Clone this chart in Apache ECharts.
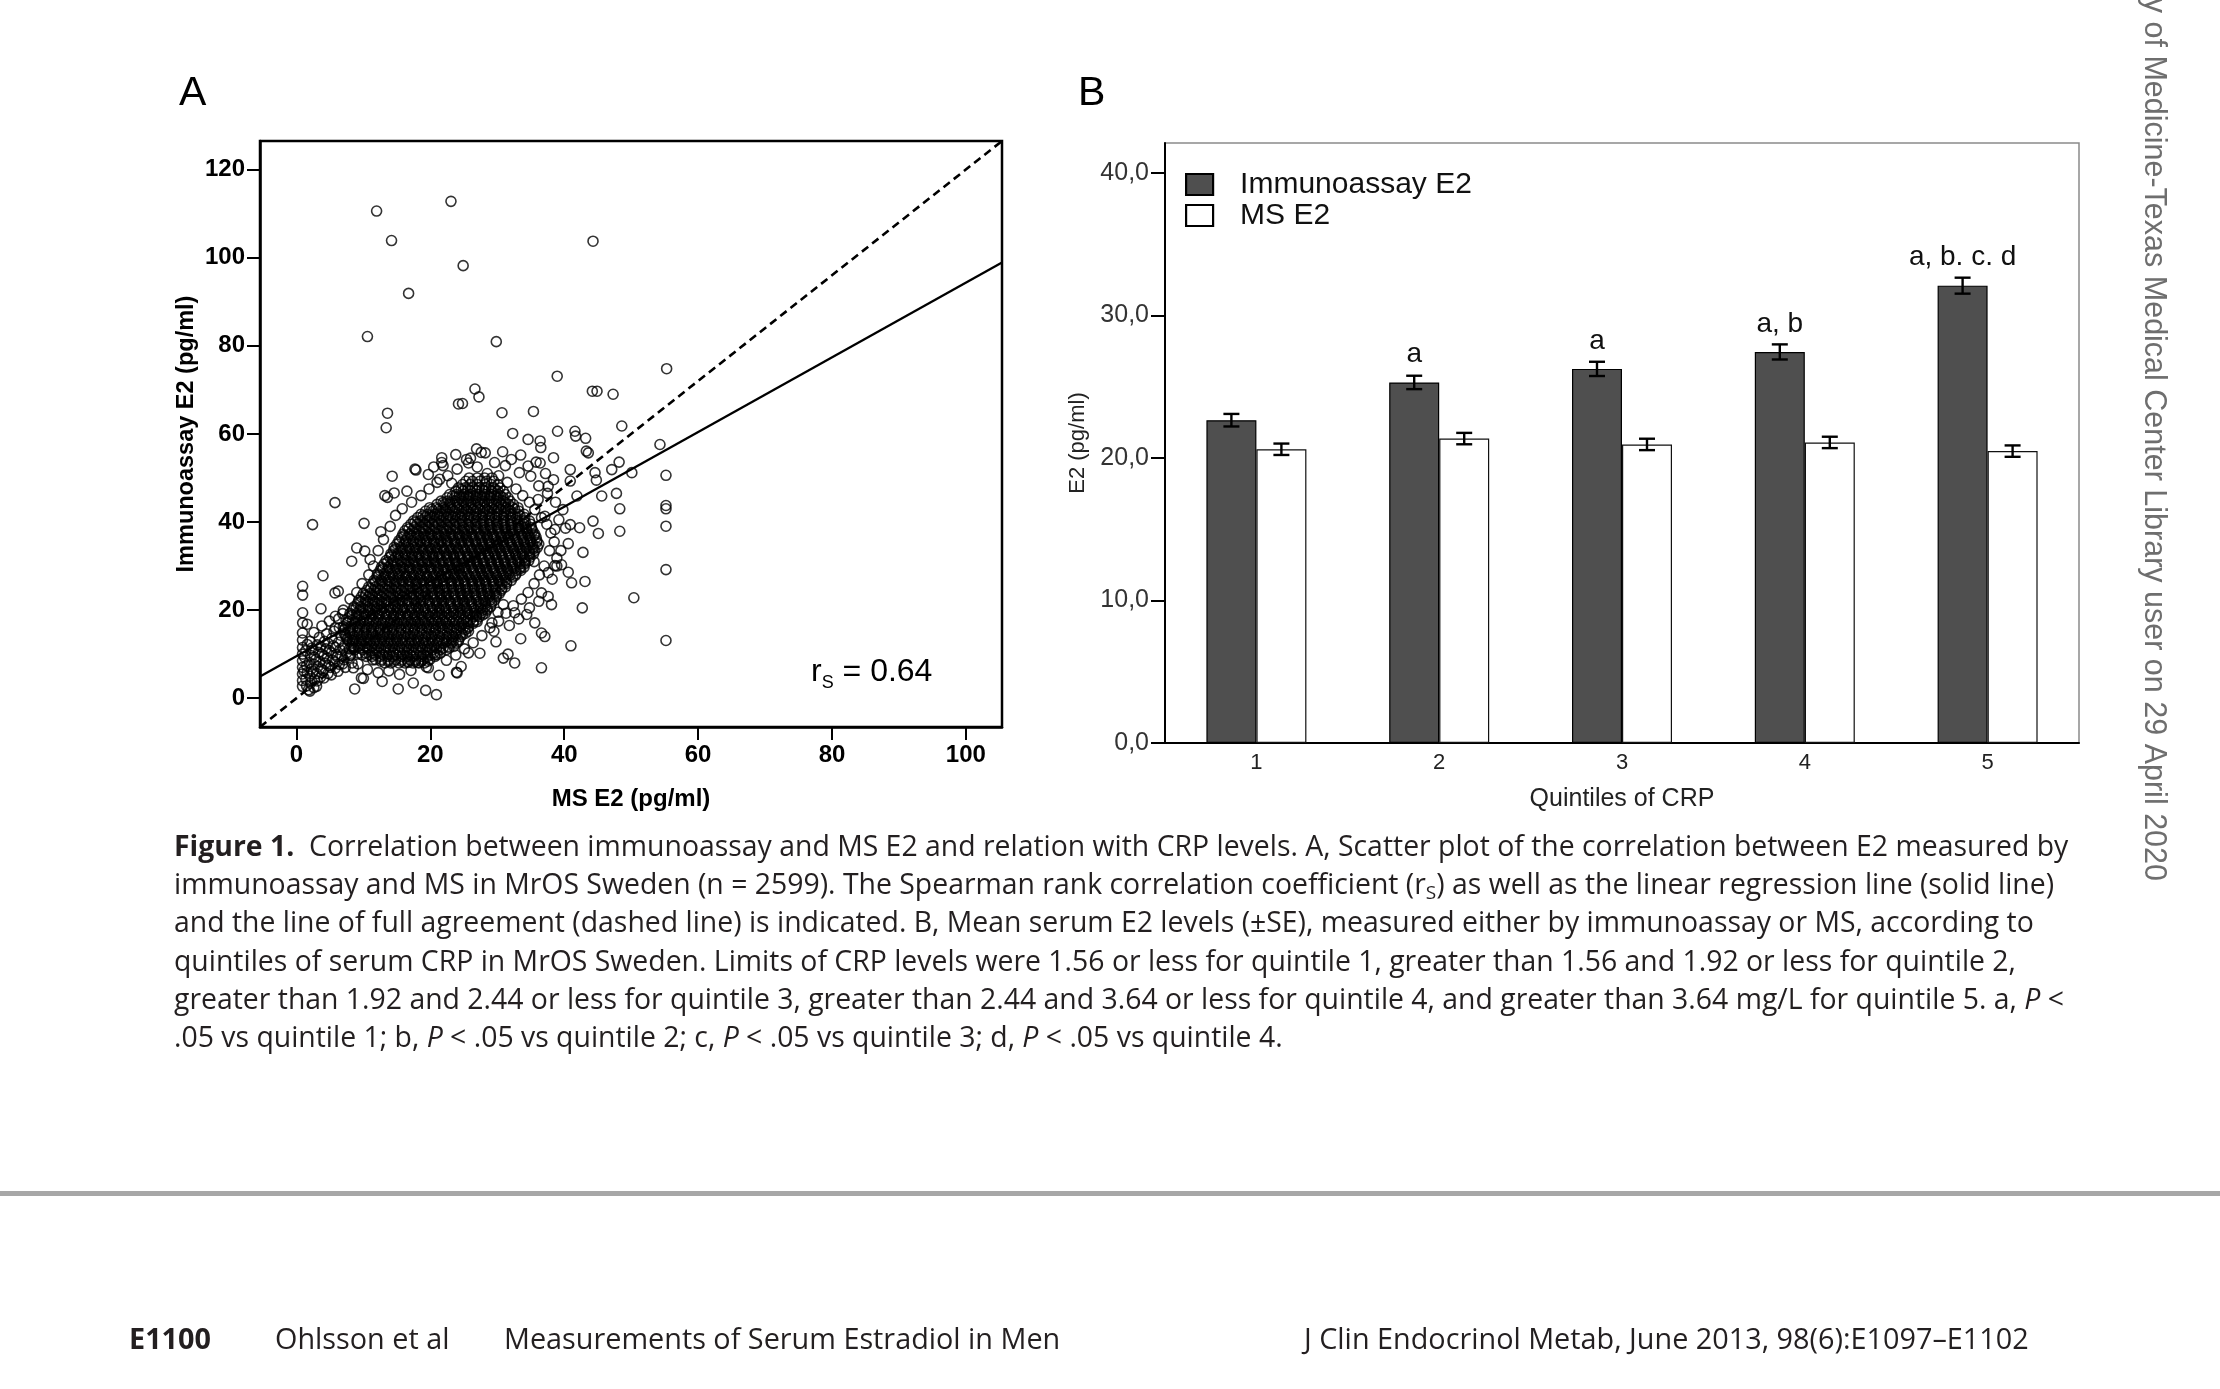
<!DOCTYPE html>
<html><head><meta charset="utf-8">
<script src="https://cdn.jsdelivr.net/npm/echarts@6/dist/echarts.min.js"></script>
<style>html,body{margin:0;padding:0;background:#fff;}#c{width:2220px;height:1389px;}</style>
</head><body><div id="c"></div>
<script>
// ---------- Panel B data ----------
const quintiles = ['1', '2', '3', '4', '5'];
const immunoMean = [22.65, 25.30, 26.25, 27.44, 32.09];
const immunoSE = [0.44, 0.47, 0.50, 0.53, 0.56];
const msMean = [20.61, 21.36, 20.95, 21.09, 20.48];
const msSE = [0.40, 0.40, 0.40, 0.40, 0.40];
const sigLabels = ['', 'a', 'a', 'a, b', 'a, b. c. d'];
const yTicksB = [0, 10, 20, 30, 40];

// ---------- Panel A data ----------
const xTicksA = [0, 20, 40, 60, 80, 100];
const yTicksA = [0, 20, 40, 60, 80, 100, 120];
const agreementLine = [[-5.45, -6.54], [105.4, 126.5]];
const regressionLine = [[-5.45, 4.95], [105.4, 98.9]];

const outlierPoints = [
[11.97,110.6],[23.08,112.8],[14.2,103.9],[44.3,103.75],[24.9,98.2],[16.75,91.9],[10.6,82.1],[29.85,80.95],
[38.95,73.1],[44.2,69.7],[44.9,69.7],[47.3,69.0],[55.3,74.8],[26.66,70.2],[27.26,68.4],[24.2,66.8],[24.8,66.9],
[30.7,64.8],[35.4,65.1],[13.6,64.7],[13.4,61.4],[39.0,60.6],[41.6,60.6],[48.6,61.8],[54.3,57.6],[50.1,51.2],
[55.2,50.6],[55.2,43.75],[55.2,43.0],[55.2,39.05],[55.2,29.2],[50.4,22.8],[55.2,13.1],
[32.3,60.1],[34.6,58.75],[36.4,58.4],[36.5,56.9],[41.7,59.5],[43.2,59.0],[43.3,56.1],[43.6,55.7],[26.9,56.6],
[28.2,55.7],[30.8,55.95],[32.1,54.2],[21.7,54.6],[21.7,53.5],[25.4,54.2],[25.7,53.4],[17.85,51.8],[14.3,50.4],
[19.7,50.8],[21.4,49.7],[13.2,46.0],[14.6,46.6],[13.6,45.6],[5.75,44.4],[2.4,39.4],[10.1,39.7],[3.96,27.8],
[0.92,25.4],[0.92,23.4],[0.92,19.4],[0.92,17.1],[3.66,20.3],[5.75,23.9],[6.25,24.3],[8.25,31.1],[9.0,34.1],
[10.2,33.4],[8.7,2.1],[15.2,2.1],[17.45,3.45],[19.3,1.77],[20.9,0.8],[23.9,5.9],[25.7,10.3],[30.9,9.1],
[31.6,10.0],[32.6,8.0],[36.6,6.9],[41.0,11.9],[42.7,20.5],[43.1,26.5],[41.1,26.2],[40.6,28.6],[42.8,33.1],
[48.3,37.9],[48.3,43.0],[45.1,37.4],[44.3,40.2],[45.6,45.9],[47.8,46.5],[47.1,51.9],[48.2,53.6],[44.6,51.2],
[44.8,49.5],[40.9,51.9],[40.9,49.3],[41.9,45.9],[40.9,39.4],[42.3,38.7],[40.6,35.1],[38.6,30.1],[37.6,23.1],
[38.1,21.25],[36.6,14.8],[37.1,14.0],[35.6,17.1],[34.4,19.0],[32.6,19.4],[30.9,21.25],[30.1,19.5],[29.2,17.1],
[29.5,15.2],[25.7,15.2],[26.9,18.6],[20.7,9.9],[19.4,7.1],[16.7,8.1],[18.2,8.1],[9.7,4.6],[8.5,6.9],
[1.8,1.9],[3.0,2.7],[0.9,2.7],[17.7,52.0],[21.9,52.8],[24.0,5.75]
];

const lowClusterPoints = [
[0.9,4.0],[0.9,5.5],[0.9,7.0],[0.9,8.5],[0.9,10.0],[0.9,11.5],[0.9,13.2],[0.9,14.8],[1.1,6.2],[1.2,9.3],
[2.0,1.6],[2.1,3.4],[2.0,5.0],[2.2,6.6],[1.9,8.1],[2.1,9.7],[2.3,11.4],[2.0,12.9],
[3.1,3.9],[3.0,5.6],[3.2,7.2],[2.9,8.8],[3.3,10.4],[3.1,12.1],[3.4,13.8],
[4.1,4.6],[4.0,6.3],[4.3,7.9],[4.1,9.6],[4.4,11.2],[4.2,12.9],[4.5,14.6],
[5.2,5.3],[5.1,7.0],[5.4,8.6],[5.2,10.3],[5.5,11.9],[5.3,13.6],[5.6,15.2],
[6.2,6.1],[6.4,7.7],[6.1,9.4],[6.5,11.0],[6.3,12.7],[6.6,14.3],[6.4,16.0],
[7.3,7.0],[7.1,8.7],[7.5,10.3],[7.2,12.0],[7.6,13.6],
[8.3,8.0],[8.1,9.8],[8.6,11.4],[8.4,13.1],
[1.6,16.8],[2.6,14.9],[3.8,16.4],[4.9,17.5],[5.8,18.6],[6.9,19.2],
[1.5,2.8],[1.4,4.3],[1.6,5.8],[1.5,7.4],[1.4,10.8],[1.6,12.2],[2.6,2.4],[2.7,4.2],[2.5,6.0],[2.6,7.7],
[2.7,9.3],[2.5,11.0],[3.6,4.8],[3.7,6.6],[3.5,8.3],[3.8,10.0],[3.6,11.7],[4.7,5.6],[4.8,7.4],[4.6,9.1],
[4.9,10.8],[4.7,12.5],[5.8,6.8],[5.7,8.2],[5.9,9.9],[5.8,11.5],[6.9,7.8],[6.8,9.6],[7.0,11.4],[7.8,9.2],[7.9,11.2]
];

const fringePoints = [
[11.5,30.0],[12.2,33.5],[13.0,36.0],[10.8,28.0],[9.8,26.0],[11.0,31.5],[14.0,39.0],[14.8,41.5],[15.8,43.0],
[17.2,44.5],[18.6,46.0],[19.8,47.5],[16.5,47.0],[21.0,49.0],[22.6,50.5],[24.0,52.0],[20.5,52.5],[23.2,48.8],
[12.6,37.8],[9.0,24.0],[8.0,22.5],[7.0,20.0],[6.3,18.0],[5.8,16.0],
[27.0,52.5],[28.5,51.0],[30.2,50.5],[31.5,49.0],[32.8,47.5],[33.8,46.0],[34.8,44.5],[35.6,42.8],[36.6,41.0],
[37.4,39.5],[38.0,37.5],[38.5,35.5],[37.8,33.5],[29.6,53.5],[31.2,52.8],[33.3,51.2],[35.0,50.4],[36.2,48.2],
[37.5,46.5],[38.7,44.5],[39.8,42.8],[39.2,40.5],[40.2,38.6],[38.9,31.8],[39.6,30.3],[26.0,54.5],[23.8,55.3],
[27.6,55.8],[33.5,55.2],[35.8,53.6],[37.2,51.0],[38.4,49.6],
[37.0,30.0],[36.3,28.0],[35.5,26.0],[34.6,24.0],[33.6,22.5],[32.4,21.0],[31.3,19.3],[30.2,17.5],[28.9,16.0],
[27.7,14.2],[26.4,12.6],[25.1,11.2],[23.8,9.8],[22.4,8.6],[36.2,22.0],[34.8,20.5],[33.2,18.0],[31.8,16.5],
[38.2,27.0],[39.5,33.5],[35.5,31.0],[29.8,12.8],[27.4,10.2],[24.6,7.2],[33.5,13.5],
[9.2,7.8],[10.6,6.5],[12.2,5.8],[13.8,6.2],[15.4,5.4],[17.1,6.3],[19.7,6.9],[21.3,5.2],[11.4,8.7],[8.0,9.7],
[10.0,4.5],[12.8,3.8],
[36.4,53.4],[37.6,48.1],[38.4,54.6],[34.6,52.7],[36.1,45.1],[37.1,41.3],[38.6,38.3],[38.9,30.0],[37.6,28.5],[36.6,23.9]
];

// dense core of the cloud: [y, list of x]
const coreRows = [
[8.0,[13.2,14.1,15.3,16.2,17.4,18.3,19.1]],
[8.4,[12.6,13.7,14.6,15.7,16.6,17.8,18.6,19.6]],
[8.75,[11.8,12.7,13.8,14.8,15.8,16.9,17.8,18.9,19.9]],
[9.5,[10.4,11.3,12.5,13.6,14.4,15.7,16.6,17.5,18.8,19.6,20.7]],
[9.9,[9.8,10.9,11.8,12.9,13.9,14.9,15.9,17.0,17.9,19.0,20.0,21.0]],
[10.25,[9.3,10.3,11.4,12.4,13.4,14.5,15.4,16.5,17.5,18.5,19.6,20.5,21.5]],
[11.0,[8.7,9.9,10.8,11.9,13.1,14.0,15.2,16.1,17.3,18.2,19.4,20.3,21.5,22.4]],
[11.4,[8.5,9.5,10.6,11.6,12.6,13.7,14.7,15.7,16.8,17.8,18.8,19.9,20.9,21.9,22.8]],
[11.75,[8.2,9.2,10.3,11.3,12.3,13.4,14.4,15.4,16.5,17.5,18.5,19.6,20.6,21.6,22.7,23.5]],
[12.5,[8.3,9.3,10.4,11.5,12.4,13.6,14.5,15.7,16.8,17.7,18.9,19.8,21.0,21.9,23.1,23.9]],
[12.9,[7.9,8.9,10.0,11.0,12.0,13.1,14.1,15.1,16.2,17.2,18.2,19.3,20.3,21.3,22.4,23.4,24.2]],
[13.25,[7.6,8.7,9.7,10.8,11.8,12.8,13.9,14.9,15.9,17.0,18.0,19.0,20.1,21.1,22.1,23.2,24.2]],
[14.0,[7.4,8.6,9.7,10.6,11.8,12.9,13.8,15.0,16.1,17.0,18.2,19.3,20.2,21.4,22.5,23.4,24.5]],
[14.4,[7.3,8.3,9.4,10.4,11.4,12.5,13.5,14.5,15.6,16.6,17.6,18.7,19.7,20.7,21.8,22.8,23.8,24.8]],
[14.75,[7.1,8.0,9.1,10.1,11.2,12.2,13.2,14.3,15.3,16.3,17.4,18.4,19.4,20.5,21.5,22.5,23.6,24.6,25.3]],
[15.5,[7.1,8.1,9.2,10.3,11.2,12.4,13.5,14.4,15.6,16.7,17.6,18.8,19.9,20.8,22.0,23.1,24.0,25.2]],
[15.9,[7.3,8.4,9.4,10.5,11.5,12.5,13.6,14.6,15.6,16.7,17.7,18.7,19.8,20.8,21.8,22.9,23.9,24.9,25.6]],
[16.25,[7.0,8.1,9.1,10.2,11.2,12.2,13.3,14.3,15.3,16.4,17.4,18.4,19.5,20.5,21.5,22.6,23.6,24.6,25.7]],
[17.0,[7.5,8.7,9.6,10.8,11.9,12.8,14.0,15.1,16.0,17.2,18.3,19.2,20.4,21.5,22.4,23.6,24.7,25.6,26.4]],
[17.4,[7.8,8.8,9.9,10.9,11.9,13.0,14.0,15.0,16.1,17.1,18.1,19.2,20.2,21.2,22.3,23.3,24.3,25.4,26.4,27.0]],
[17.75,[7.4,8.4,9.5,10.5,11.5,12.6,13.6,14.6,15.7,16.7,17.7,18.8,19.8,20.8,21.9,22.9,23.9,25.0,26.0,26.9]],
[18.5,[7.9,9.0,10.1,11.2,12.3,13.4,14.5,15.5,16.6,17.7,18.8,19.9,21.0,22.1,23.1,24.2,25.3,26.4,27.3]],
[18.9,[8.3,9.3,10.4,11.4,12.4,13.5,14.5,15.5,16.6,17.6,18.6,19.7,20.7,21.7,22.8,23.8,24.8,25.9,26.9,27.8]],
[19.25,[8.0,9.0,10.1,11.1,12.1,13.2,14.2,15.2,16.3,17.3,18.3,19.4,20.4,21.4,22.5,23.5,24.5,25.6,26.6,27.6,28.2]],
[20.0,[8.4,9.5,10.7,11.8,12.7,13.9,15.0,15.9,17.1,18.2,19.1,20.3,21.4,22.3,23.5,24.6,25.5,26.7,27.8,28.5]],
[20.4,[8.9,9.9,11.0,12.0,13.0,14.1,15.1,16.1,17.2,18.2,19.2,20.3,21.3,22.3,23.4,24.4,25.4,26.5,27.5,28.5]],
[20.75,[8.6,9.6,10.7,11.7,12.7,13.8,14.8,15.8,16.9,17.9,18.9,20.0,21.0,22.0,23.1,24.1,25.1,26.2,27.2,28.2,29.0]],
[21.5,[9.1,10.2,11.3,12.2,13.4,14.5,15.4,16.6,17.7,18.6,19.8,20.9,21.8,23.0,24.1,25.0,26.2,27.3,28.2,29.1]],
[21.9,[9.6,10.6,11.7,12.7,13.7,14.8,15.8,16.8,17.9,18.9,19.9,21.0,22.0,23.0,24.1,25.1,26.1,27.2,28.2,29.2]],
[22.25,[9.3,10.3,11.4,12.4,13.4,14.5,15.5,16.5,17.6,18.6,19.6,20.7,21.7,22.7,23.8,24.8,25.8,26.9,27.9,28.9,29.6]],
[23.0,[9.7,10.8,11.9,12.8,14.0,15.1,16.0,17.2,18.3,19.2,20.4,21.5,22.4,23.6,24.7,25.6,26.8,27.9,28.8,29.8]],
[23.4,[10.3,11.3,12.4,13.4,14.4,15.5,16.5,17.5,18.6,19.6,20.6,21.7,22.7,23.7,24.8,25.8,26.8,27.9,28.9,29.9]],
[23.75,[10.0,11.0,12.1,13.1,14.1,15.2,16.2,17.2,18.3,19.3,20.3,21.4,22.4,23.4,24.5,25.5,26.5,27.6,28.6,29.6,30.3]],
[24.5,[10.5,11.6,12.5,13.7,14.8,15.7,16.9,18.0,18.9,20.1,21.2,22.1,23.3,24.4,25.3,26.5,27.6,28.5,29.7,30.6]],
[24.9,[11.1,12.1,13.2,14.2,15.2,16.3,17.3,18.3,19.4,20.4,21.4,22.5,23.5,24.5,25.6,26.6,27.6,28.7,29.7,30.7]],
[25.25,[10.8,11.8,12.9,13.9,14.9,16.0,17.0,18.0,19.1,20.1,21.1,22.2,23.2,24.2,25.3,26.3,27.3,28.4,29.4,30.4,31.2]],
[26.0,[11.4,12.4,13.5,14.6,15.5,16.7,17.8,18.7,19.9,21.0,21.9,23.1,24.2,25.1,26.3,27.4,28.3,29.5,30.6,31.4]],
[26.4,[11.8,12.8,13.9,14.9,15.9,17.0,18.0,19.0,20.1,21.1,22.1,23.2,24.2,25.2,26.3,27.3,28.3,29.4,30.4,31.4]],
[26.75,[11.6,12.6,13.7,14.7,15.7,16.8,17.8,18.8,19.9,20.9,21.9,23.0,24.0,25.0,26.1,27.1,28.1,29.2,30.2,31.2,32.1]],
[27.5,[12.0,13.1,14.0,15.2,16.3,17.2,18.4,19.5,20.4,21.6,22.7,23.6,24.8,25.9,26.8,28.0,29.1,30.0,31.2,32.3]],
[27.9,[12.3,13.3,14.4,15.4,16.4,17.5,18.5,19.5,20.6,21.6,22.6,23.7,24.7,25.7,26.8,27.8,28.8,29.9,30.9,31.9,32.7]],
[28.25,[12.1,13.1,14.2,15.2,16.2,17.3,18.3,19.3,20.4,21.4,22.4,23.5,24.5,25.5,26.6,27.6,28.6,29.7,30.7,31.7,32.8]],
[29.0,[12.5,13.6,14.7,15.6,16.8,17.9,18.8,20.0,21.1,22.0,23.2,24.3,25.2,26.4,27.5,28.4,29.6,30.7,31.6,32.8,33.5]],
[29.4,[12.9,13.9,15.0,16.0,17.0,18.1,19.1,20.1,21.2,22.2,23.2,24.3,25.3,26.3,27.4,28.4,29.4,30.5,31.5,32.5,33.4]],
[29.75,[12.7,13.7,14.8,15.8,16.8,17.9,18.9,19.9,21.0,22.0,23.0,24.1,25.1,26.1,27.2,28.2,29.2,30.3,31.3,32.3,33.4,34.0]],
[30.5,[13.1,14.2,15.1,16.3,17.4,18.3,19.5,20.6,21.5,22.7,23.8,24.7,25.9,27.0,27.9,29.1,30.2,31.1,32.3,33.4,34.1]],
[30.9,[13.6,14.6,15.7,16.7,17.7,18.8,19.8,20.8,21.9,22.9,23.9,25.0,26.0,27.0,28.1,29.1,30.1,31.2,32.2,33.2,34.2]],
[31.25,[13.4,14.4,15.5,16.5,17.5,18.6,19.6,20.6,21.7,22.7,23.7,24.8,25.8,26.8,27.9,28.9,29.9,31.0,32.0,33.0,34.1,34.7]],
[32.0,[13.9,14.8,16.0,17.1,18.0,19.2,20.3,21.2,22.4,23.5,24.4,25.6,26.7,27.6,28.8,29.9,30.8,32.0,33.1,34.0,34.9]],
[32.4,[14.2,15.2,16.3,17.3,18.3,19.4,20.4,21.4,22.5,23.5,24.5,25.6,26.6,27.6,28.7,29.7,30.7,31.8,32.8,33.8,34.8]],
[32.75,[14.1,15.1,16.2,17.2,18.2,19.3,20.3,21.3,22.4,23.4,24.4,25.5,26.5,27.5,28.6,29.6,30.6,31.7,32.7,33.7,34.8,35.4]],
[33.5,[14.5,15.6,16.5,17.7,18.8,19.7,20.9,22.0,22.9,24.1,25.2,26.1,27.3,28.4,29.3,30.5,31.6,32.5,33.7,34.8,35.6]],
[33.9,[14.8,15.8,16.9,17.9,18.9,20.0,21.0,22.0,23.1,24.1,25.1,26.2,27.2,28.2,29.3,30.3,31.3,32.4,33.4,34.4,35.4]],
[34.25,[14.6,15.6,16.7,17.7,18.7,19.8,20.8,21.8,22.9,23.9,24.9,26.0,27.0,28.0,29.1,30.1,31.1,32.2,33.2,34.2,35.3,36.0]],
[35.0,[15.0,16.1,17.2,18.1,19.3,20.4,21.3,22.5,23.6,24.5,25.7,26.8,27.7,28.9,30.0,30.9,32.1,33.2,34.1,35.3,36.2]],
[35.4,[15.4,16.4,17.5,18.5,19.5,20.6,21.6,22.6,23.7,24.7,25.7,26.8,27.8,28.8,29.9,30.9,31.9,33.0,34.0,35.0,35.9]],
[35.75,[15.3,16.3,17.4,18.4,19.4,20.5,21.5,22.5,23.6,24.6,25.6,26.7,27.7,28.7,29.8,30.8,31.8,32.9,33.9,34.9,35.9]],
[36.5,[15.7,16.6,17.8,18.9,19.8,21.0,22.1,23.0,24.2,25.3,26.2,27.4,28.5,29.4,30.6,31.7,32.6,33.8,34.9,35.8]],
[36.9,[16.1,17.1,18.2,19.2,20.2,21.3,22.3,23.3,24.4,25.4,26.4,27.5,28.5,29.5,30.6,31.6,32.6,33.7,34.7,35.5]],
[37.25,[15.9,16.9,18.0,19.0,20.0,21.1,22.1,23.1,24.2,25.2,26.2,27.3,28.3,29.3,30.4,31.4,32.4,33.5,34.5,35.6]],
[38.0,[16.2,17.3,18.4,19.3,20.5,21.6,22.5,23.7,24.8,25.7,26.9,28.0,28.9,30.1,31.2,32.1,33.3,34.4,35.3]],
[38.4,[16.8,17.8,18.9,19.9,20.9,22.0,23.0,24.0,25.1,26.1,27.1,28.2,29.2,30.2,31.3,32.3,33.3,34.4,35.1]],
[38.75,[16.6,17.6,18.7,19.7,20.7,21.8,22.8,23.8,24.9,25.9,26.9,28.0,29.0,30.0,31.1,32.1,33.1,34.2,35.1]],
[39.5,[17.1,18.0,19.2,20.3,21.2,22.4,23.5,24.4,25.6,26.7,27.6,28.8,29.9,30.8,32.0,33.1,34.0,35.0]],
[39.9,[17.7,18.7,19.8,20.8,21.8,22.9,23.9,24.9,26.0,27.0,28.0,29.1,30.1,31.1,32.2,33.2,34.2]],
[40.25,[17.5,18.5,19.6,20.6,21.6,22.7,23.7,24.7,25.8,26.8,27.8,28.9,29.9,30.9,32.0,33.0,34.0,34.8]],
[41.0,[18.1,19.2,20.1,21.3,22.4,23.3,24.5,25.6,26.5,27.7,28.8,29.7,30.9,32.0,32.9,34.1]],
[41.4,[18.9,19.9,21.0,22.0,23.0,24.1,25.1,26.1,27.2,28.2,29.2,30.3,31.3,32.3,33.4]],
[41.75,[18.6,19.6,20.7,21.7,22.7,23.8,24.8,25.8,26.9,27.9,28.9,30.0,31.0,32.0,33.1,34.0]],
[42.5,[19.3,20.4,21.5,22.4,23.6,24.7,25.6,26.8,27.9,28.8,30.0,31.1,32.0,33.2]],
[42.9,[20.2,21.2,22.3,23.3,24.3,25.4,26.4,27.4,28.5,29.5,30.5,31.6,32.6]],
[43.25,[19.9,20.9,22.0,23.0,24.0,25.1,26.1,27.1,28.2,29.2,30.2,31.3,32.3,33.1]],
[44.0,[21.0,22.1,23.0,24.2,25.3,26.2,27.4,28.5,29.4,30.6,31.7,32.4]],
[44.4,[21.9,22.9,24.0,25.0,26.0,27.1,28.1,29.1,30.2,31.2]],
[44.75,[21.6,22.6,23.7,24.7,25.7,26.8,27.8,28.8,29.9,30.9,31.9]],
[45.5,[22.5,23.6,24.5,25.7,26.8,27.7,28.9,30.0,30.9,31.6]],
[45.9,[23.3,24.3,25.4,26.4,27.4,28.5,29.5,30.5]],
[46.25,[22.9,23.9,25.0,26.0,27.0,28.1,29.1,30.1,31.2]],
[47.0,[23.8,24.9,26.0,26.9,28.1,29.2,30.1,30.9]],
[47.4,[24.6,25.6,26.7,27.7,28.7,29.7]],
[47.75,[24.2,25.2,26.3,27.3,28.3,29.4,30.4]],
[48.5,[24.8,25.9,27.0,28.2,29.1,30.1]],
[49.25,[25.3,26.3,27.4,28.4,29.5]],
[50.0,[25.8,27.0,28.1,29.2]]
];

// ---------- build ----------
const corePoints = [];
coreRows.forEach(function (r) { r[1].forEach(function (x) { corePoints.push([x, r[0]]); }); });
const scatterData = outlierPoints.concat(lowClusterPoints, fringePoints, corePoints);

const FA = '"Liberation Sans", Arial, sans-serif';
const FC = '"Open Sans", "Noto Sans", sans-serif';
const CAP = 28.4;
const FOOT = 28.8;

function errRender(sign) {
  return function (params, api) {
    const c = api.value(0);
    const lo = api.coord([c, api.value(1)]);
    const hi = api.coord([c, api.value(2)]);
    const x = lo[0] + sign * 25;
    const cap = 8;
    const st = { stroke: '#000', lineWidth: 2.4 };
    return { type: 'group', children: [
      { type: 'line', shape: { x1: x, y1: lo[1], x2: x, y2: hi[1] }, style: st },
      { type: 'line', shape: { x1: x - cap, y1: lo[1], x2: x + cap, y2: lo[1] }, style: st },
      { type: 'line', shape: { x1: x - cap, y1: hi[1], x2: x + cap, y2: hi[1] }, style: st }
    ] };
  };
}

const captionLines = [
  '{b|Figure 1.}  Correlation between immunoassay and MS E2 and relation with CRP levels. A, Scatter plot of the correlation between E2 measured by',
  'immunoassay and MS in MrOS Sweden (n = 2599). The Spearman rank correlation coefficient (r{s|S}) as well as the linear regression line (solid line)',
  'and the line of full agreement (dashed line) is indicated. B, Mean serum E2 levels (\u00b1SE), measured either by immunoassay or MS, according to',
  'quintiles of serum CRP in MrOS Sweden. Limits of CRP levels were 1.56 or less for quintile 1, greater than 1.56 and 1.92 or less for quintile 2,',
  'greater than 1.92 and 2.44 or less for quintile 3, greater than 2.44 and 3.64 or less for quintile 4, and greater than 3.64 mg/L for quintile 5. a, {i|P} <',
  '.05 vs quintile 1; b, {i|P} < .05 vs quintile 2; c, {i|P} < .05 vs quintile 3; d, {i|P} < .05 vs quintile 4.'
];
const capRich = {
  b: { fontFamily: FC, fontSize: CAP, fontWeight: 'bold', fill: '#231f20' },
  i: { fontFamily: FC, fontSize: CAP, fontStyle: 'italic', fill: '#231f20' },
  s: { fontFamily: FC, fontSize: 19, lineHeight: 19, verticalAlign: 'bottom', fill: '#231f20' }
};
const graphics = [];
captionLines.forEach(function (t, k) {
  graphics.push({ type: 'text', x: 174, y: 848 + k * 38.2, silent: true,
    style: { text: t, fontFamily: FC, fontSize: CAP, lineHeight: 33, fill: '#231f20', align: 'left', verticalAlign: 'middle', rich: capRich } });
});
graphics.push(
  { type: 'text', x: 179, y: 94, silent: true, style: { text: 'A', fontFamily: FA, fontSize: 41, fill: '#000', align: 'left', verticalAlign: 'middle' } },
  { type: 'text', x: 1078, y: 94, silent: true, style: { text: 'B', fontFamily: FA, fontSize: 41, fill: '#000', align: 'left', verticalAlign: 'middle' } },
  { type: 'text', x: 811, y: 672, silent: true, style: { text: '{m|r}{s|S}{m| = 0.64}', align: 'left', verticalAlign: 'middle',
      rich: { m: { fontFamily: FA, fontSize: 32, lineHeight: 40, fill: '#000' }, s: { fontFamily: FA, fontSize: 18, lineHeight: 18, verticalAlign: 'bottom', fill: '#000' } } } },
  { type: 'rect', silent: true, shape: { x: 0, y: 1191, width: 2220, height: 5 }, style: { fill: '#a7a7a7' } },
  { type: 'text', x: 129, y: 1341, silent: true, style: { text: 'E1100', fontFamily: FC, fontSize: FOOT, fontWeight: 'bold', fill: '#231f20', align: 'left', verticalAlign: 'middle' } },
  { type: 'text', x: 275, y: 1341, silent: true, style: { text: 'Ohlsson et al', fontFamily: FC, fontSize: FOOT, fill: '#231f20', align: 'left', verticalAlign: 'middle' } },
  { type: 'text', x: 504, y: 1341, silent: true, style: { text: 'Measurements of Serum Estradiol in Men', fontFamily: FC, fontSize: FOOT, fill: '#231f20', align: 'left', verticalAlign: 'middle' } },
  { type: 'text', x: 1304, y: 1341, silent: true, style: { text: 'J Clin Endocrinol Metab, June 2013, 98(6):E1097\u2013E1102', fontFamily: FC, fontSize: FOOT, fill: '#231f20', align: 'left', verticalAlign: 'middle' } },
  { type: 'text', x: 2153, y: 881, rotation: -Math.PI / 2, silent: true, style: { text: 'Houston Academy of Medicine-Texas Medical Center Library user on 29 April 2020', fontFamily: FA, fontSize: 30.5, fill: '#6e6e6e', align: 'right', verticalAlign: 'middle' } }
);

const chart = echarts.init(document.getElementById('c'), null, { renderer: 'canvas' });
chart.setOption({
  animation: false,
  backgroundColor: '#fff',
  grid: [
    { left: 260, top: 141, width: 742, height: 586, show: true, borderColor: '#000', borderWidth: 2.5, backgroundColor: 'transparent' },
    { left: 1165, top: 143, width: 914, height: 600, show: true, borderColor: '#8a8a8a', borderWidth: 1.5, backgroundColor: 'transparent' }
  ],
  legend: {
    orient: 'vertical', left: 1180, top: 163, itemWidth: 27, itemHeight: 21, itemGap: -2, icon: 'rect',
    data: ['Immunoassay E2', 'MS E2'],
    itemStyle: { borderColor: '#000', borderWidth: 2.2 },
    textStyle: { fontFamily: FA, fontSize: 30, lineHeight: 24, color: '#111', padding: [9, 0, 0, 22] }
  },
  xAxis: [
    { type: 'value', gridIndex: 0, min: -5.45, max: 105.4,
      axisLine: { show: true, onZero: false, lineStyle: { color: '#000', width: 2.5 } },
      axisTick: { show: true, length: 13, customValues: xTicksA, lineStyle: { color: '#000', width: 2 } },
      axisLabel: { customValues: xTicksA, margin: 16, fontFamily: FA, fontSize: 24, fontWeight: 'bold', color: '#000' },
      splitLine: { show: false },
      name: 'MS E2 (pg/ml)', nameLocation: 'middle', nameGap: 60,
      nameTextStyle: { fontFamily: FA, fontSize: 24, fontWeight: 'bold', color: '#000' } },
    { type: 'category', gridIndex: 1, data: quintiles,
      axisLine: { show: true, lineStyle: { color: '#000', width: 2 } },
      axisTick: { show: false },
      axisLabel: { margin: 9, fontFamily: FA, fontSize: 22, color: '#222' },
      name: 'Quintiles of CRP', nameLocation: 'middle', nameGap: 44,
      nameTextStyle: { fontFamily: FA, fontSize: 25, color: '#222' } }
  ],
  yAxis: [
    { type: 'value', gridIndex: 0, min: -6.54, max: 126.5,
      axisLine: { show: true, onZero: false, lineStyle: { color: '#000', width: 2.5 } },
      axisTick: { show: true, length: 13, customValues: yTicksA, lineStyle: { color: '#000', width: 2 } },
      axisLabel: { customValues: yTicksA, margin: 15, fontFamily: FA, fontSize: 24, fontWeight: 'bold', color: '#000' },
      splitLine: { show: false },
      name: 'Immunoassay E2 (pg/ml)', nameLocation: 'middle', nameGap: 61,
      nameTextStyle: { fontFamily: FA, fontSize: 23.5, fontWeight: 'bold', color: '#000' } },
    { type: 'value', gridIndex: 1, min: 0, max: 42.1,
      axisLine: { show: true, onZero: false, lineStyle: { color: '#000', width: 2 } },
      axisTick: { show: true, length: 14, customValues: yTicksB, lineStyle: { color: '#000', width: 2 } },
      axisLabel: { customValues: yTicksB, margin: 16, fontFamily: FA, fontSize: 25, color: '#333',
        formatter: function (v) { return v.toFixed(1).replace('.', ','); } },
      splitLine: { show: false },
      name: 'E2 (pg/ml)', nameLocation: 'middle', nameGap: 76,
      nameTextStyle: { fontFamily: FA, fontSize: 22, color: '#222' } }
  ],
  series: [
    { type: 'scatter', name: 'points', xAxisIndex: 0, yAxisIndex: 0, data: scatterData, symbol: 'circle', symbolSize: 10,
      large: false, silent: true, z: 2,
      itemStyle: { color: 'rgba(0,0,0,0)', borderColor: '#000', borderWidth: 1.6 } },
    { type: 'line', name: 'regression', xAxisIndex: 0, yAxisIndex: 0, data: regressionLine, symbol: 'none', silent: true, z: 3,
      lineStyle: { color: '#000', width: 2.3 } },
    { type: 'line', name: 'agreement', xAxisIndex: 0, yAxisIndex: 0, data: agreementLine, symbol: 'none', silent: true, z: 3,
      lineStyle: { color: '#000', width: 2.6, type: [8, 5] } },
    { type: 'bar', name: 'Immunoassay E2', xAxisIndex: 1, yAxisIndex: 1, data: immunoMean, barWidth: 50, barGap: '0%', silent: true,
      itemStyle: { color: '#4f4f4f', borderColor: '#000', borderWidth: 1.2 },
      label: { show: true, position: 'top', distance: 14, fontFamily: FA, fontSize: 28, color: '#111',
        formatter: function (p) { return sigLabels[p.dataIndex]; } } },
    { type: 'bar', name: 'MS E2', xAxisIndex: 1, yAxisIndex: 1, data: msMean, barWidth: 50, barGap: '0%', silent: true,
      itemStyle: { color: '#ffffff', borderColor: '#111', borderWidth: 1.2 } },
    { type: 'custom', name: 'errImmuno', xAxisIndex: 1, yAxisIndex: 1, z: 4, silent: true, renderItem: errRender(-1),
      encode: { x: 0, y: [1, 2] },
      data: immunoMean.map(function (m, i) { return [i, m - immunoSE[i], m + immunoSE[i]]; }) },
    { type: 'custom', name: 'errMS', xAxisIndex: 1, yAxisIndex: 1, z: 4, silent: true, renderItem: errRender(1),
      encode: { x: 0, y: [1, 2] },
      data: msMean.map(function (m, i) { return [i, m - msSE[i], m + msSE[i]]; }) }
  ],
  graphic: graphics
});
</script></body></html>
